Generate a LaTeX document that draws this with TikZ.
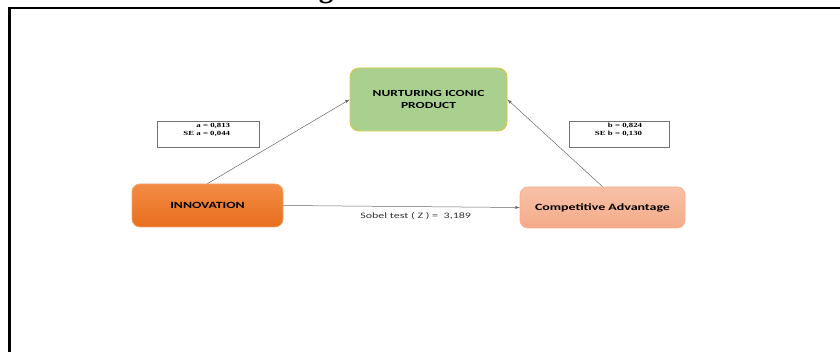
\documentclass[tikz,border=0pt]{standalone}
\usepackage{fontspec}
\setmainfont{Liberation Serif}
\newfontfamily\widecal[FakeStretch=1.45]{Carlito}
\newfontfamily\wideserif[FakeStretch=1.4]{Liberation Serif}
\usetikzlibrary{arrows,calc,positioning}
\tikzset{>=latex}
\definecolor{leafgreen}{HTML}{A9D08E}
\definecolor{goldline}{HTML}{D8C840}
\definecolor{orangetop}{HTML}{F28C44}
\definecolor{orangebot}{HTML}{E86E1E}
\definecolor{orangeline}{HTML}{F4A468}
\definecolor{salmontop}{HTML}{F8C0A6}
\definecolor{salmonbot}{HTML}{F4AC8A}
\definecolor{salmonline}{HTML}{F4B090}
\tikzset{
  block/.style={rounded corners=9pt, line width=0.8pt, align=center},
  valbox/.style={draw=black!55, line width=0.6pt, minimum height=26pt},
  valtext/.style={font=\wideserif\bfseries\fontsize{6.3}{8}\selectfont, align=right, inner sep=0pt},
  link/.style={->, draw=black!60, line width=0.5pt}
}

\begin{document}
\begin{tikzpicture}[x=1pt,y=-1pt]
  \useasboundingbox (0,0) rectangle (840,352);

  % Frame and title
  \node[font=\bfseries\fontsize{29}{32}\selectfont, anchor=base, inner sep=0pt] (title) at (416,-2.5) {Figure 3. Sobel Test};
  \draw[line width=2.2pt] (9.5,354) -- (9.5,8) -- (842,8);

  % Variables
  \node[block, draw=goldline, fill=leafgreen, minimum width=157pt, minimum height=63pt, font=\widecal\bfseries\fontsize{9.3}{11.5}\selectfont] (nip) at (428.5,99.5) {NURTURING ICONIC\\PRODUCT};
  \node[block, draw=orangeline, top color=orangetop, bottom color=orangebot, minimum width=151pt, minimum height=43pt, rounded corners=8pt, font=\widecal\bfseries\fontsize{9.5}{11.5}\selectfont] (inno) at (207.5,205.5) {INNOVATION};
  \node[block, draw=salmonline, top color=salmontop, bottom color=salmonbot, minimum width=165pt, minimum height=41pt, rounded corners=8pt, font=\widecal\bfseries\fontsize{9.6}{12}\selectfont] (comp) at (602.5,207.5) {Competitive Advantage};

  % Coefficients
  \node[valbox, minimum width=102pt] (abox) at (208,134) {};
  \node[valtext, anchor=north east] (atext) at ($(abox.north east)+(-29,2.5)$) {a = 0,813\\SE a = 0,044};
  \node[valbox, minimum width=100pt] (bbox) at (619,134) {};
  \node[valtext, anchor=north east] (btext) at ($(bbox.north east)+(-27,2.5)$) {b = 0,824\\SE b = 0,130};

  % Paths
  \draw[link] (inno.north) -- (nip.west);
  \draw[link] (comp.north) -- (nip.east);
  \draw[link] (inno.east) -- (comp.west) node[pos=0.56, below=2pt, font=\widecal\fontsize{8.3}{10}\selectfont, text=black!80] (sobel) {Sobel test ( Z ) =~~3,189};
\end{tikzpicture}
\end{document}
